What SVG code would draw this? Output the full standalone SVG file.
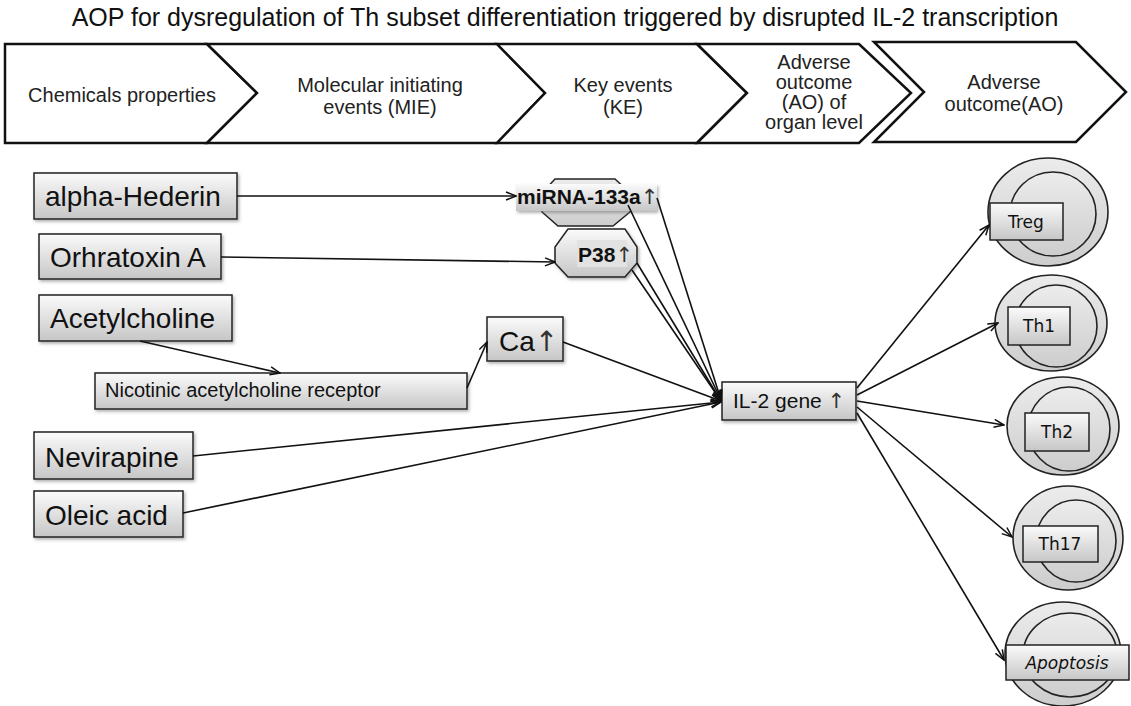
<svg xmlns="http://www.w3.org/2000/svg" width="1131" height="706" viewBox="0 0 1131 706">
<defs>
<linearGradient id="g" x1="0" y1="0" x2="0" y2="1"><stop offset="0" stop-color="#fbfbfb"/><stop offset="1" stop-color="#c6c6c6"/></linearGradient>
<linearGradient id="gc" x1="0" y1="0" x2="0" y2="1"><stop offset="0" stop-color="#ececec"/><stop offset="1" stop-color="#cdcdcd"/></linearGradient>
<filter id="sh" x="-10%" y="-10%" width="130%" height="140%"><feDropShadow dx="1.5" dy="2" stdDeviation="1.5" flood-color="#666" flood-opacity="0.5"/></filter>
<marker id="ah" viewBox="0 0 12 10" refX="11" refY="5" markerWidth="12" markerHeight="10" markerUnits="userSpaceOnUse" orient="auto"><path d="M1,1 L11,5 L1,9" fill="none" stroke="#111" stroke-width="1.5"/></marker>
</defs>
<style>
.chev{fill:#fff;stroke:#111;stroke-width:2.5;stroke-linejoin:miter}
.ct{font-family:"Liberation Sans",Arial,sans-serif;font-size:20px;fill:#222;text-anchor:middle}
.title{font-family:"Liberation Sans",Arial,sans-serif;font-size:25px;fill:#111;text-anchor:middle}
.box{fill:url(#g);stroke:#222;stroke-width:1.5;filter:url(#sh)}
.bt{font-family:"Liberation Sans",Arial,sans-serif;font-size:28px;fill:#111}
.st{font-family:"Liberation Sans",Arial,sans-serif;font-size:20px;fill:#111}
.bold{font-family:"Liberation Sans",Arial,sans-serif;font-size:21px;font-weight:bold;fill:#111}
.up{font-family:"DejaVu Sans",sans-serif;font-weight:normal;fill:#333}
.conn line{stroke:#111;stroke-width:1.6;fill:none}
.arr{marker-end:url(#ah)}
.cell{fill:url(#gc);stroke:#222;stroke-width:1.6}
.lbl{fill:url(#g);stroke:#222;stroke-width:1.5}
.lt{font-family:"DejaVu Sans",sans-serif;font-size:17px;fill:#111;text-anchor:middle}
</style>
<rect width="1131" height="706" fill="#fff"/>
<text class="title" x="565" y="26">AOP for dysregulation of Th subset differentiation triggered by disrupted IL-2 transcription</text>

<g id="stage-chemicals">
<polygon class="chev" points="5,44 207,44 257,93 207,143 5,143"/>
<text class="ct" x="122" y="102">Chemicals properties</text>
</g>
<g id="stage-mie">
<polygon class="chev" points="207,44 497,44 545,93 497,143 207,143 257,93"/>
<text class="ct" x="380" y="92">Molecular initiating</text>
<text class="ct" x="380" y="114">events (MIE)</text>
</g>
<g id="stage-ke">
<polygon class="chev" points="497,44 697,44 747,93 697,143 497,143 545,93"/>
<text class="ct" x="623" y="92">Key events</text>
<text class="ct" x="623" y="114">(KE)</text>
</g>
<g id="stage-ao-organ">
<polygon class="chev" points="697,44 859,44 911,93 859,143 697,143 747,93"/>
<text class="ct" x="814" y="69">Adverse</text>
<text class="ct" x="814" y="89">outcome</text>
<text class="ct" x="814" y="109">(AO) of</text>
<text class="ct" x="814" y="129">organ level</text>
</g>
<g id="stage-ao">
<polygon class="chev" points="874,42 1076,42 1126,92 1076,142 874,142 924,92"/>
<text class="ct" x="1004" y="89">Adverse</text>
<text class="ct" x="1004" y="111">outcome(AO)</text>
</g>

<g id="alpha-hederin">
<rect class="box" x="34" y="173" width="203" height="46"/>
<text class="bt" x="45" y="206">alpha-Hederin</text>
</g>
<g id="orhratoxin">
<rect class="box" x="39" y="234" width="182" height="45"/>
<text class="bt" x="50" y="267">Orhratoxin A</text>
</g>
<g id="acetylcholine">
<rect class="box" x="39" y="295" width="193" height="46"/>
<text class="bt" x="50" y="328">Acetylcholine</text>
</g>
<g id="nicotinic">
<rect class="box" x="95" y="373" width="372" height="36"/>
<text class="st" x="105" y="397">Nicotinic acetylcholine receptor</text>
</g>
<g id="nevirapine">
<rect class="box" x="34" y="432" width="159" height="47"/>
<text class="bt" x="45" y="467">Nevirapine</text>
</g>
<g id="oleic">
<rect class="box" x="34" y="491" width="149" height="46"/>
<text class="bt" x="45" y="525">Oleic acid</text>
</g>
<g id="mirna">
<polygon points="555,179 615,179 630,193 630,212 613,226 558,226 542,212 542,193" fill="url(#gc)" stroke="#222" stroke-width="1.5"/>
<rect x="516" y="184" width="141" height="27" fill="url(#g)" filter="url(#sh)"/>
<text class="bold" x="517" y="204">miRNA-133a<tspan class="up">↑</tspan></text>
</g>
<g id="p38">
<polygon points="568,229 625,229 637,247 637,263 625,277 568,277 555,263 555,247" fill="url(#g)" stroke="#222" stroke-width="1.5" filter="url(#sh)"/>
<rect x="577" y="240" width="50" height="27" fill="#e2e2e2"/>
<text class="bold" x="578" y="262">P38<tspan class="up">↑</tspan></text>
</g>
<g id="ca">
<rect class="box" x="487" y="317" width="76" height="44"/>
<text class="bt" x="499" y="351">Ca<tspan class="up">↑</tspan></text>
</g>
<g id="il2">
<rect class="box" x="722" y="382" width="134" height="38"/>
<text class="st" x="733" y="408" style="font-size:21px">IL-2 gene <tspan class="up">↑</tspan></text>
</g>

<g id="treg">
<ellipse class="cell" cx="1048" cy="212" rx="60" ry="54"/>
<ellipse class="cell" cx="1053" cy="214" rx="43" ry="42"/>
<rect class="lbl" x="990" y="203" width="73" height="37"/>
<text class="lt" x="1026" y="228">Treg</text>
</g>
<g id="th1">
<ellipse class="cell" cx="1051" cy="323" rx="56" ry="48"/>
<ellipse class="cell" cx="1056" cy="326" rx="41" ry="41"/>
<rect class="lbl" x="1008" y="307" width="62" height="38"/>
<text class="lt" x="1039" y="332">Th1</text>
</g>
<g id="th2">
<ellipse class="cell" cx="1063" cy="426" rx="56" ry="49"/>
<ellipse class="cell" cx="1069" cy="429" rx="41" ry="42"/>
<rect class="lbl" x="1025" y="413" width="64" height="38"/>
<text class="lt" x="1057" y="438">Th2</text>
</g>
<g id="th17">
<ellipse class="cell" cx="1068" cy="538" rx="55" ry="52"/>
<ellipse class="cell" cx="1076" cy="541" rx="40" ry="41"/>
<rect class="lbl" x="1023" y="526" width="75" height="36"/>
<text class="lt" x="1060" y="550">Th17</text>
</g>
<g id="apoptosis">
<ellipse class="cell" cx="1063" cy="654" rx="58" ry="52"/>
<ellipse class="cell" cx="1070" cy="655" rx="47" ry="42"/>
<rect class="lbl" x="1006" y="645" width="123" height="35"/>
<text class="lt" x="1067" y="669" font-style="italic">Apoptosis</text>
</g>

<g id="connectors" class="conn">
<line class="arr" x1="237" y1="196" x2="516" y2="196"/>
<line class="arr" x1="221" y1="257" x2="555" y2="262"/>
<line class="arr" x1="140" y1="341" x2="280" y2="373"/>
<line class="arr" x1="467" y1="388" x2="487" y2="342"/>
<line class="arr" x1="628" y1="205" x2="721" y2="400"/>
<line class="arr" x1="657" y1="198" x2="721" y2="400"/>
<line class="arr" x1="637" y1="263" x2="721" y2="401"/>
<line class="arr" x1="632" y1="270" x2="721" y2="401"/>
<line class="arr" x1="563" y1="342" x2="721" y2="401"/>
<line class="arr" x1="193" y1="456" x2="721" y2="402"/>
<line class="arr" x1="183" y1="513" x2="721" y2="402"/>
<line class="arr" x1="857" y1="388" x2="989" y2="225"/>
<line class="arr" x1="857" y1="395" x2="998" y2="323"/>
<line class="arr" x1="857" y1="401" x2="1004" y2="425"/>
<line class="arr" x1="857" y1="407" x2="1012" y2="537"/>
<line class="arr" x1="857" y1="413" x2="1004" y2="660"/>
</g>
</svg>
